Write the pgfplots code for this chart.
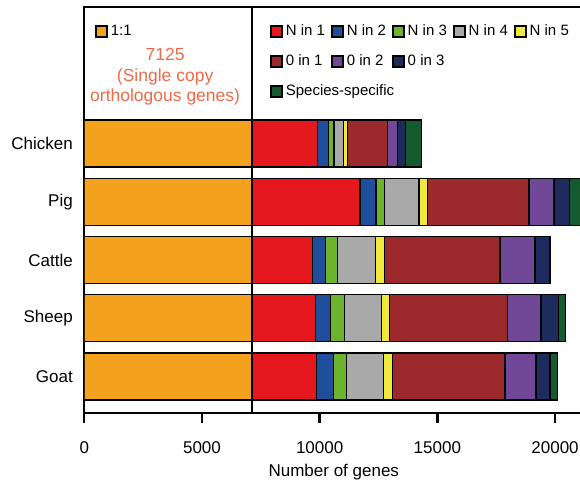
\documentclass[border=0pt]{standalone}
\usepackage{pgfplots}
\pgfplotsset{compat=1.18}
\usepackage{pgfplotstable}
\usepackage{fontspec}
\setmainfont{Liberation Sans}

\definecolor{cOne}{HTML}{F4A21E}
\definecolor{cNA}{HTML}{E5181D}
\definecolor{cNB}{HTML}{1F4E9D}
\definecolor{cNC}{HTML}{6CB42E}
\definecolor{cND}{HTML}{A9A9A9}
\definecolor{cNE}{HTML}{EEE93A}
\definecolor{cZA}{HTML}{9C2A2C}
\definecolor{cZB}{HTML}{714898}
\definecolor{cZC}{HTML}{1D2C5C}
\definecolor{cSp}{HTML}{135B2F}
\definecolor{cNote}{HTML}{EE6B48}

% narrow word space used in the legend entries
\newcommand{\ws}{\hspace{0.28em}}

% gene counts per orthology class (pos: 0 = Goat ... 4 = Chicken)
\pgfplotstableread{
pos one  nA   nB  nC  nD   nE  zA   zB   zC  sp
0   7125 2748 705 569 1555 399 4771 1317 594 327
1   7125 2705 637 578 1589 322 5013 1432 752 280
2   7125 2577 552 493 1615 382 4915 1487 607 40
3   7125 4587 680 352 1474 353 4320 1062 650 600
4   7125 2773 467 242 395  187 1682 442  340 680
}\genes

\begin{document}
\begin{tikzpicture}
\begin{axis}[
  at={(0,0)}, anchor=south west,
  scale only axis, width=499pt, height=406pt,
  xbar stacked, bar width=47pt,
  xmin=0, xmax=21200, ymin=-0.627, ymax=6.343,
  axis line style={line width=2.4pt},
  xtick={0,5000,10000,15000,20000},
  xtick pos=lower, tick align=outside,
  major tick length=10pt,
  x tick style={line width=2.4pt, black},
  ytick={0,1,2,3,4},
  yticklabels={Goat,Sheep,Cattle,Pig,Chicken},
  y tick style={draw=none},
  scaled x ticks=false,
  /pgf/number format/1000 sep={},
  /pgf/number format/assume math mode=true,
  tick label style={font=\fontsize{17}{20}\selectfont},
  xticklabel style={yshift=-15pt},
  yticklabel style={xshift=2pt},
  xlabel={Number of genes},
  xlabel style={font=\fontsize{17}{20}\selectfont, yshift=-4pt},
  every axis plot/.append style={draw=black, line width=1.2pt},
  legend columns=5,
  legend cell align=left,
  legend image code/.code={\draw[#1,draw=black,line width=2.2pt] (0pt,-5.5pt) rectangle (11pt,5.5pt);},
  legend style={at={(rel axis cs:0.372,0.963)}, anchor=north west,
    draw=none, fill=none, inner sep=0pt,
    font=\fontsize{15}{18}\selectfont,
    nodes={inner sep=2.5pt, text height=11pt, text depth=3pt},
    row sep=11pt,
    /tikz/every even column/.append style={column sep=3.5pt}},
]
\addplot[fill=cOne, forget plot] table[x=one, y=pos] {\genes};
\addplot[fill=cNA] table[x=nA, y=pos] {\genes};
\addlegendentry{N\ws in\ws 1}
\addplot[fill=cNB] table[x=nB, y=pos] {\genes};
\addlegendentry{N\ws in\ws 2}
\addplot[fill=cNC] table[x=nC, y=pos] {\genes};
\addlegendentry{N\ws in\ws 3}
\addplot[fill=cND] table[x=nD, y=pos] {\genes};
\addlegendentry{N\ws in\ws 4}
\addplot[fill=cNE] table[x=nE, y=pos] {\genes};
\addlegendentry{N\ws in\ws 5}
\addplot[fill=cZA] table[x=zA, y=pos] {\genes};
\addlegendentry{0\ws in\ws 1}
\addplot[fill=cZB] table[x=zB, y=pos] {\genes};
\addlegendentry{0\ws in\ws 2}
\addplot[fill=cZC] table[x=zC, y=pos] {\genes};
\addlegendentry{0\ws in\ws 3}
\addlegendimage{empty legend}
\addlegendentry{}
\addlegendimage{empty legend}
\addlegendentry{}
\addplot[fill=cSp] table[x=sp, y=pos] {\genes};
\addlegendentry{\makebox[0pt][l]{Species-specific}}
% divider between the single-copy block and the rest
\draw[line width=2.4pt] (axis cs:7125,-0.627) -- (axis cs:7125,6.343);
\node[text=cNote, align=center, anchor=north,
  font=\fontsize{17.5}{20.5}\selectfont]
  at (rel axis cs:0.162,0.906) {7125\\(Single copy\\orthologous genes)};
\end{axis}
% separate legend for the 1:1 block
\begin{axis}[
  at={(0,0)}, anchor=south west,
  scale only axis, width=499pt, height=406pt,
  xmin=0, xmax=1, ymin=0, ymax=1, hide axis,
  legend image code/.code={\draw[#1,draw=black,line width=2.2pt] (0pt,-5.5pt) rectangle (11pt,5.5pt);},
  legend style={at={(rel axis cs:0.0214,0.963)}, anchor=north west,
    draw=none, fill=none, inner sep=0pt,
    font=\fontsize{15}{18}\selectfont,
    nodes={inner sep=2.5pt, text height=11pt, text depth=3pt}},
]
\addlegendimage{fill=cOne}
\addlegendentry{1:1}
\end{axis}
\pgfresetboundingbox
\path[use as bounding box] (-84.3pt,-66pt) rectangle (495.7pt,413pt);
\end{tikzpicture}
\end{document}
